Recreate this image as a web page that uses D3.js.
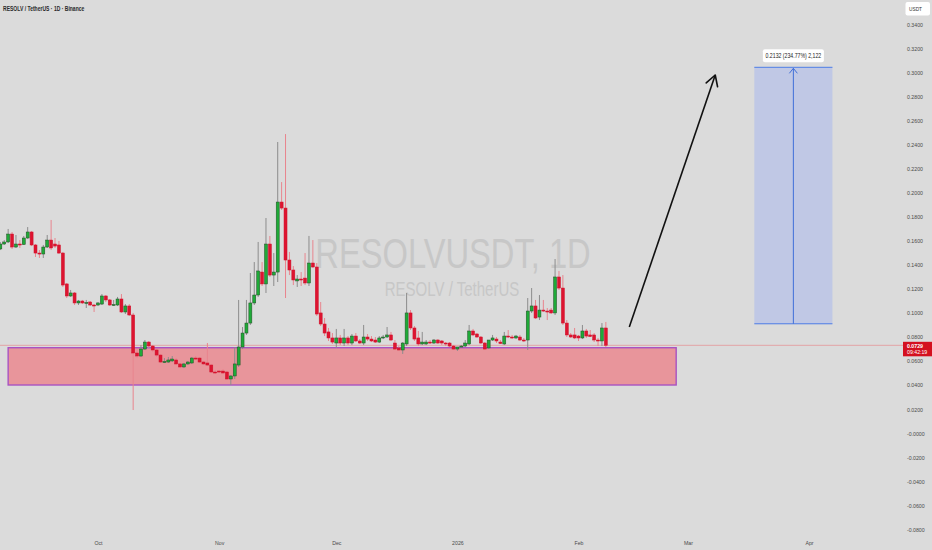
<!DOCTYPE html>
<html><head><meta charset="utf-8">
<script src="https://cdn.jsdelivr.net/npm/d3@7"></script>
<style>html,body{margin:0;padding:0;background:#dbdbdb;} svg{display:block;font-family:"Liberation Sans",Arial,sans-serif;}</style>
</head><body><svg id="c" width="932" height="550"></svg>
<script>
// ---------- data ----------
const startDate = "2025-09-06"; // first daily candle
const opens = [.1530,.1571,.1588,.1654,.1546,.1571,.1567,.1621,.1671,.1563,
.1496,.1488,.1546,.1604,.1571,.1563,.1496,.1239,.1139,.1164,
.1081,.1097,.1081,.1089,.1064,.1064,.1072,.1139,.1106,.1064,
.1064,.1114,.1006,.1056,.0981,.0665,.0640,.0698,.0756,.0723,
.0690,.0648,.0590,.0590,.0599,.0607,.0574,.0549,.0574,.0582,
.0623,.0623,.0590,.0582,.0565,.0507,.0515,.0515,.0507,.0449,
.0474,.0565,.0715,.0831,.0914,.1081,.1147,.1338,.1239,.1571,
.1313,.1338,.1920,.1870,.1438,.1355,.1264,.1280,.1288,.1247,
.1413,.1380,.0998,.0906,.0840,.0790,.0748,.0790,.0748,.0790,
.0748,.0806,.0765,.0748,.0798,.0781,.0773,.0756,.0790,.0798,
.0815,.0748,.0707,.0690,.0740,.0998,.0873,.0790,.0740,.0740,
.0756,.0748,.0773,.0765,.0748,.0748,.0723,.0698,.0715,.0723,
.0740,.0848,.0823,.0798,.0748,.0707,.0773,.0781,.0756,.0740,
.0806,.0798,.0790,.0798,.0773,.0773,.1014,.1056,.0964,.1022,
.1014,.1022,.0998,.1297,.1205,.0914,.0815,.0815,.0806,.0790,
.0848,.0815,.0815,.0773,.0765,.0873];
const highs = [.1588,.1604,.1696,.1671,.1646,.1604,.1638,.1712,.1679,.1571,
.1521,.1563,.1646,.1771,.1621,.1596,.1505,.1247,.1189,.1172,
.1106,.1106,.1106,.1097,.1072,.1089,.1155,.1147,.1114,.1106,
.1131,.1155,.1072,.1072,.0998,.0690,.0731,.0773,.0765,.0731,
.0698,.0657,.0623,.0632,.0640,.0623,.0582,.0582,.0599,.0632,
.0640,.0632,.0599,.0748,.0574,.0524,.0524,.0532,.0515,.0482,
.0715,.1106,.0881,.1106,.1330,.1421,.1588,.1421,.1787,.1638,
.1496,.2419,.2086,.2485,.1505,.1388,.1313,.1338,.1496,.1638,
.1604,.1413,.1089,.0956,.0873,.0831,.0865,.0815,.0865,.0806,
.0823,.0831,.0781,.0898,.0823,.0806,.0798,.0806,.0815,.0881,
.0840,.0773,.0723,.0756,.1164,.1022,.0889,.0848,.0840,.0773,
.0773,.0781,.0781,.0773,.0756,.0756,.0731,.0715,.0731,.0773,
.0898,.0865,.0831,.0806,.0756,.0773,.0815,.0798,.0773,.0840,
.0856,.0815,.0815,.0815,.0790,.1122,.1205,.1106,.1147,.1106,
.1039,.1039,.1446,.1347,.1313,.0939,.0831,.0873,.0815,.0898,
.0865,.0856,.0831,.0790,.0914,.0923];
const lows = [.1521,.1563,.1579,.1530,.1538,.1538,.1563,.1613,.1554,.1463,
.1455,.1455,.1538,.1521,.1538,.1488,.1214,.1122,.1131,.1064,
.1064,.1072,.1039,.1056,.1006,.1056,.1064,.1089,.1056,.1056,
.1056,.0998,.0989,.0973,.0191,.0623,.0632,.0690,.0707,.0673,
.0632,.0582,.0582,.0582,.0590,.0565,.0540,.0540,.0565,.0574,
.0607,.0582,.0565,.0557,.0499,.0490,.0499,.0490,.0441,.0399,
.0449,.0549,.0698,.0815,.0898,.1064,.1131,.1222,.1164,.1297,
.1222,.1255,.1854,.1122,.1313,.1230,.1214,.1222,.1230,.1222,
.1372,.0973,.0889,.0806,.0765,.0740,.0707,.0731,.0723,.0731,
.0731,.0756,.0740,.0731,.0765,.0756,.0748,.0748,.0781,.0790,
.0765,.0690,.0682,.0657,.0723,.0856,.0765,.0723,.0731,.0731,
.0740,.0740,.0740,.0731,.0723,.0715,.0690,.0682,.0707,.0715,
.0731,.0806,.0790,.0740,.0690,.0698,.0765,.0748,.0740,.0731,
.0790,.0781,.0781,.0765,.0756,.0690,.0998,.0948,.0939,.1006,
.0939,.0989,.0981,.1189,.0898,.0798,.0790,.0781,.0765,.0781,
.0790,.0798,.0756,.0723,.0723,.0715];
const closes = [.1571,.1588,.1654,.1546,.1571,.1567,.1621,.1671,.1563,.1496,
.1488,.1546,.1604,.1538,.1554,.1496,.1230,.1139,.1164,.1081,
.1097,.1081,.1085,.1064,.1060,.1081,.1139,.1106,.1064,.1068,
.1114,.1006,.1056,.0981,.0665,.0640,.0698,.0756,.0723,.0690,
.0648,.0590,.0594,.0607,.0615,.0574,.0549,.0574,.0590,.0623,
.0619,.0590,.0574,.0565,.0507,.0503,.0511,.0499,.0449,.0474,
.0574,.0715,.0831,.0914,.1081,.1147,.1347,.1239,.1571,.1313,
.1338,.1920,.1870,.1438,.1355,.1272,.1280,.1276,.1247,.1413,
.1380,.0989,.0906,.0831,.0790,.0756,.0790,.0748,.0790,.0748,
.0806,.0765,.0748,.0798,.0781,.0765,.0756,.0790,.0798,.0815,
.0773,.0698,.0690,.0748,.0998,.0873,.0781,.0740,.0756,.0756,
.0748,.0773,.0748,.0748,.0740,.0723,.0698,.0715,.0723,.0748,
.0848,.0815,.0798,.0748,.0698,.0773,.0790,.0765,.0744,.0806,
.0798,.0794,.0806,.0773,.0765,.1014,.1056,.0956,.1022,.1014,
.1010,.0998,.1297,.1205,.0914,.0815,.0798,.0790,.0790,.0848,
.0806,.0802,.0773,.0765,.0873,.0729];

const yTickValues = [-0.08,-0.06,-0.04,-0.02,0,0.02,0.04,0.06,0.08,0.10,0.12,0.14,0.16,0.18,0.20,0.22,0.24,0.26,0.28,0.30,0.32,0.34];
const yTickLabels = ["-0.0800","-0.0600","-0.0400","-0.0200","-0.0000","0.0200","0.0400","0.0600","0.0800","0.1000","0.1200","0.1400","0.1600","0.1800","0.2000","0.2200","0.2400","0.2600","0.2800","0.3000","0.3200","0.3400"];
const monthTicks = ["2025-10-01","2025-11-01","2025-12-01","2026-01-01","2026-02-01","2026-03-01","2026-04-01"];
const monthLabels = ["Oct","Nov","Dec","2026","Feb","Mar","Apr"];

const zoneDates = ["2025-09-08","2026-02-26"];
const zonePrices = [0.0709, 0.0399];
const targetDates = ["2026-03-18","2026-04-07"];
const targetPrices = [0.3040, 0.0908];
const targetLabel = "0.2132 (234.77%) 2,122";
const arrowDates = ["2026-02-14","2026-03-08"];
const arrowPrices = [0.0881, 0.2976];
const lastPrice = 0.0729;
const lastPriceLabels = ["0.0729","09:42:19"];
const titleText = "RESOLV / TetherUS · 1D · Binance";
const watermark = ["RESOLVUSDT, 1D","RESOLV / TetherUS"];
const currency = "USDT";

// ---------- scales ----------
const P = d => new Date(d + "T00:00:00Z");
const x = d3.scaleUtc().domain([P("2025-10-01"), P("2026-04-01")]).range([98, 809]);
const y = d3.scaleLinear().domain([0, 0.34]).range([433, 24]);
const svg = d3.select("#c");
const start = P(startDate);
const candles = opens.map((o,i)=>({date:d3.utcDay.offset(start,i),o,h:highs[i],l:lows[i],c:closes[i]}));

svg.append("rect").attr("width",932).attr("height",550).attr("fill","#dbdbdb");

// watermark
svg.append("text").attr("transform","translate(453,268) scale(0.76,1)")
  .attr("text-anchor","middle").attr("font-size",43).attr("fill","#c7c7c7").text(watermark[0]);
svg.append("text").attr("transform","translate(452,296) scale(0.77,1)")
  .attr("text-anchor","middle").attr("font-size",19.5).attr("fill","#c7c7c7").text(watermark[1]);

// zone
svg.append("rect")
  .attr("x",x(P(zoneDates[0]))).attr("y",y(zonePrices[0]))
  .attr("width",x(P(zoneDates[1]))-x(P(zoneDates[0])))
  .attr("height",y(zonePrices[1])-y(zonePrices[0]))
  .attr("fill","#e8959b").attr("stroke","#a853c2").attr("stroke-width",1.4);

// last price line
svg.append("line").attr("x1",0).attr("x2",903).attr("y1",y(lastPrice)).attr("y2",y(lastPrice))
  .attr("stroke","#e3a3a6").attr("stroke-width",1);

// candles
const cg = svg.append("g");
const up = d => d.c >= d.o;
cg.selectAll("line.w").data(candles).join("line")
  .attr("x1",d=>x(d.date)).attr("x2",d=>x(d.date))
  .attr("y1",d=>y(d.h)).attr("y2",d=>y(d.l))
  .attr("stroke",d=>up(d)?"#8c8c8c":"#e8858e").attr("stroke-width",1);
cg.selectAll("rect.b").data(candles).join("rect")
  .attr("x",d=>x(d.date)-1.5).attr("width",3)
  .attr("y",d=>y(Math.max(d.o,d.c)))
  .attr("height",d=>Math.max(1,Math.abs(y(d.o)-y(d.c))))
  .attr("fill",d=>up(d)?"#1faa38":"#dd1430")
  .attr("stroke",d=>up(d)?"#244d27":"#d0102a").attr("stroke-width",0.5);

// target box
const tx0 = x(P(targetDates[0])), tx1 = x(P(targetDates[1]));
const ty0 = y(targetPrices[0]), ty1 = y(targetPrices[1]);
const tmid = (tx0+tx1)/2;
svg.append("rect").attr("x",tx0).attr("y",ty0).attr("width",tx1-tx0).attr("height",ty1-ty0).attr("fill","#c0c8e5");
[ty0,ty1].forEach(v=>svg.append("line").attr("x1",tx0).attr("x2",tx1).attr("y1",v).attr("y2",v).attr("stroke","#4d7de6").attr("stroke-width",1));
svg.append("line").attr("x1",tmid).attr("x2",tmid).attr("y1",ty1).attr("y2",ty0+1).attr("stroke","#3f6fd8").attr("stroke-width",1);
svg.append("path").attr("d",`M${tmid-4},${ty0+6}L${tmid},${ty0+1}L${tmid+4},${ty0+6}`).attr("fill","none").attr("stroke","#3f6fd8").attr("stroke-width",1);
svg.append("rect").attr("x",tmid-30.5).attr("y",ty0-18).attr("width",61).attr("height",13).attr("rx",2).attr("fill","#ffffff");
svg.append("text").attr("transform",`translate(${tmid},${ty0-9.3}) scale(0.8,1)`).attr("text-anchor","middle")
  .attr("font-size",6.5).attr("fill","#222").text(targetLabel);

// black arrow
const ax0 = x(P(arrowDates[0])), ay0 = y(arrowPrices[0]);
const ax1 = x(P(arrowDates[1])), ay1 = y(arrowPrices[1]);
svg.append("line").attr("x1",ax0).attr("y1",ay0).attr("x2",ax1).attr("y2",ay1).attr("stroke","#111").attr("stroke-width",1.6);
{
  const dx = ax0-ax1, dy = ay0-ay1, L = Math.hypot(dx,dy), ux = dx/L, uy = dy/L, a = Math.PI/6, len = 12;
  const r = s => [ax1 + len*(Math.cos(s*a)*ux - Math.sin(s*a)*uy), ay1 + len*(Math.sin(s*a)*ux + Math.cos(s*a)*uy)];
  const p1 = r(1), p2 = r(-1);
  svg.append("path").attr("d",`M${p1[0]},${p1[1]}L${ax1},${ay1}L${p2[0]},${p2[1]}`).attr("fill","none").attr("stroke","#111").attr("stroke-width",1.6).attr("stroke-linecap","round").attr("stroke-linejoin","round");
}

// y axis
const yAxis = svg.append("g").attr("transform","translate(907,0)")
  .call(d3.axisRight(y).tickValues(yTickValues).tickFormat((d,i)=>yTickLabels[i]).tickSize(0).tickPadding(0));
yAxis.select(".domain").remove();
yAxis.selectAll("text").attr("x",0).attr("dy","0.35em").attr("text-anchor","start")
  .attr("font-size",6).attr("fill","#4a4a4a").attr("font-family","Liberation Sans, Arial, sans-serif")
  .attr("transform","scale(0.87,1)");

// x axis
const xAxis = svg.append("g").attr("transform","translate(0,543)")
  .call(d3.axisBottom(x).tickValues(monthTicks.map(P)).tickFormat((d,i)=>monthLabels[i]).tickSize(0).tickPadding(0));
xAxis.select(".domain").remove();
xAxis.selectAll("text").attr("y",0).attr("dy","0.35em").attr("text-anchor","middle")
  .attr("font-size",6).attr("fill","#4a4a4a").attr("font-family","Liberation Sans, Arial, sans-serif")
  .attr("transform","scale(0.87,1)");
// keep each label centred at its tick despite the horizontal squeeze
xAxis.selectAll("text").attr("transform","scale(0.87,1)");

// last price label
const ly = y(lastPrice);
svg.append("rect").attr("x",903).attr("y",ly-3.5).attr("width",29).attr("height",14.5).attr("fill","#d4101f");
svg.append("text").attr("transform",`translate(907,${ly+2.2}) scale(0.87,1)`).attr("font-size",6).attr("font-weight","bold").attr("fill","#fff").text(lastPriceLabels[0]);
svg.append("text").attr("transform",`translate(907,${ly+9}) scale(0.87,1)`).attr("font-size",6).attr("fill","#fff").text(lastPriceLabels[1]);

// currency box
svg.append("rect").attr("x",905.5).attr("y",2).attr("width",24.5).attr("height",13.5).attr("rx",2).attr("fill","#fff");
svg.append("text").attr("transform","translate(909,10.8) scale(0.8,1)").attr("font-size",6).attr("fill","#333").text(currency);

// title
svg.append("text").attr("transform","translate(3,10.5) scale(0.72,1)").attr("font-size",7).attr("font-weight",600).attr("fill","#2a2a2a").text(titleText);
</script></body></html>
